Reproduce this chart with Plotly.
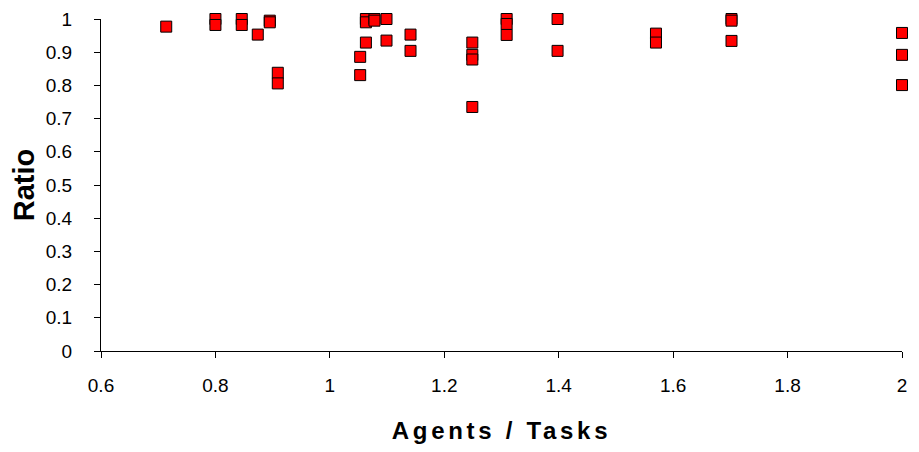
import plotly.graph_objects as go

agents_tasks = [0.714,
                0.8, 0.8,
                0.846, 0.846,
                0.874,
                0.895, 0.895,
                0.909, 0.909,
                1.053, 1.053,
                1.063, 1.063, 1.063,
                1.078, 1.078,
                1.099, 1.099,
                1.141, 1.141,
                1.249, 1.249, 1.249, 1.249,
                1.309, 1.309, 1.309,
                1.398, 1.398,
                1.57, 1.57,
                1.702, 1.702, 1.702,
                2.0, 2.0, 2.0]
ratio = [0.977,
         1.0, 0.982,
         1.0, 0.982,
         0.953,
         0.995, 0.99,
         0.838, 0.806,
         0.886, 0.831,
         1.0, 0.99, 0.929,
         1.0, 0.995,
         1.0, 0.935,
         0.953, 0.904,
         0.929, 0.892, 0.878, 0.735,
         1.0, 0.985, 0.952,
         1.0, 0.904,
         0.956, 0.929,
         1.0, 0.995, 0.934,
         0.958, 0.892, 0.801]

x_ticks = [0.6, 0.8, 1.0, 1.2, 1.4, 1.6, 1.8, 2.0]
y_ticks = [0, 0.1, 0.2, 0.3, 0.4, 0.5, 0.6, 0.7, 0.8, 0.9, 1.0]

font = "Liberation Sans, Arial, sans-serif"

fig = go.Figure()
fig.add_trace(go.Scatter(
    x=agents_tasks, y=ratio, mode="markers",
    marker=dict(symbol="square", size=11, color="#ff0000",
                line=dict(color="#000000", width=1)),
    cliponaxis=False, showlegend=False,
))

# page body has an 8px margin, so the figure is sized/offset to compensate
fig.update_layout(
    width=911, height=444,
    margin=dict(l=93, r=17, t=11, b=101, autoexpand=False),
    paper_bgcolor="white", plot_bgcolor="white",
    font=dict(family=font, size=19, color="black"),
    xaxis=dict(range=[0.6, 2.0], tickvals=x_ticks, ticktext=[("%g" % v) for v in x_ticks],
               showgrid=False, zeroline=False, showline=True, linecolor="black",
               linewidth=1, ticks="outside", ticklen=6, tickcolor="black",
               ticklabelstandoff=11, automargin=False,
               title=dict(text='<span style="letter-spacing:3.7px"><b>Agents / Tasks</b></span>',
                          font=dict(size=24), standoff=27)),
    yaxis=dict(range=[0, 1.0], tickvals=y_ticks, ticktext=[("%g" % v) for v in y_ticks],
               showgrid=False, zeroline=False, showline=True, linecolor="black",
               linewidth=1, ticks="outside", ticklen=6, tickcolor="black",
               ticklabelstandoff=18, automargin=False,
               title=dict(text="<b>Ratio</b>", font=dict(size=29), standoff=17)),
)

fig.write_html("out.html")
